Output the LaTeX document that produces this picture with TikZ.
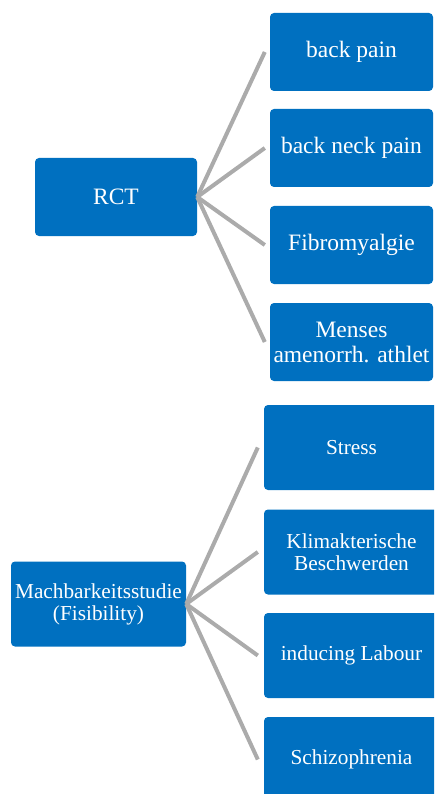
\documentclass[tikz,border=0pt]{standalone}
\usepackage{fontspec}
\setmainfont{Liberation Serif}
\definecolor{boxblue}{HTML}{0070C0}
\definecolor{linegray}{HTML}{ABABAB}
\begin{document}
\begin{tikzpicture}[x=1pt,y=-1pt,
  bluebox/.style={rectangle, rounded corners=4pt, fill=boxblue, draw=none, text=white, inner sep=0pt, align=center},
  topbox/.style={bluebox, minimum width=163pt, minimum height=78pt, font=\fontsize{23.5}{25}\selectfont},
  botbox/.style={bluebox, minimum width=175pt, minimum height=85pt, font=\fontsize{21.3}{22}\selectfont},
  conn/.style={draw=linegray, line width=4pt}
]
\useasboundingbox (0,0) rectangle (434,794);
\clip (0,0) rectangle (434,794);
% top group
\node[topbox, minimum width=162pt] (rct) at (116,197) {RCT};
\node[topbox] (bp) at (351.5,52) {back pain};
\node[topbox] (bnp) at (351.5,148) {back neck pain};
\node[topbox] (fib) at (351.5,245) {Fibromyalgie};
\node[topbox] (men) at (351.5,342) {Menses\\amenorrh. athlet};
\foreach \t in {bp,bnp,fib,men}
  \draw[conn] (rct.east) -- ([xshift=-5pt]\t.west);
% bottom group
\node[botbox] (mach) at (98.5,604) {Machbarkeitsstudie\\(Fisibility)};
\node[botbox] (str) at (351.5,447.5) {Stress};
\node[botbox] (kli) at (351.5,552) {Klimakterische\\Beschwerden};
\node[botbox] (ind) at (351.5,655.5) {inducing Labour};
\node[botbox] (sch) at (351.5,759.5) {Schizophrenia};
\foreach \t in {str,kli,ind,sch}
  \draw[conn] (mach.east) -- ([xshift=-6pt]\t.west);
\end{tikzpicture}
\end{document}
